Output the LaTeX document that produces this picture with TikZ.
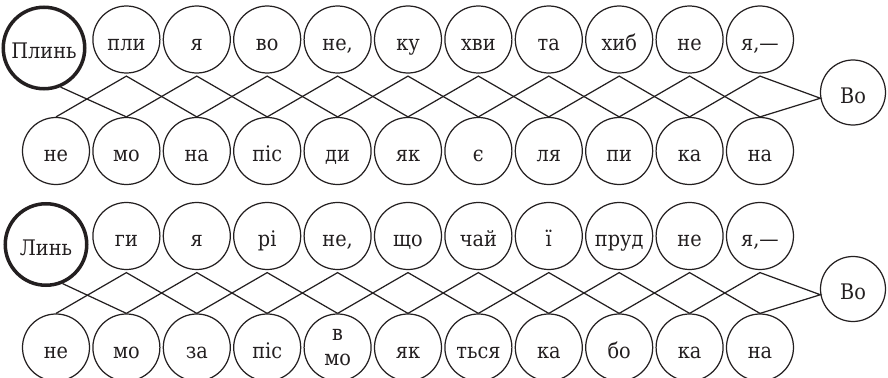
\documentclass[tikz,border=0pt]{standalone}
\usepackage{fontspec}
\setmainfont{DejaVu Serif Condensed}
\usetikzlibrary{calc}
\definecolor{ink}{HTML}{231F20}
\newcommand{\sy}{\fontsize{6.1}{7.2}\selectfont}

\begin{document}
\begin{tikzpicture}[
  syl/.style={circle, draw=ink, line width=0.35pt, minimum size=6.7mm, inner sep=0pt,
              font=\sy, text=ink, text height=1.45ex, text depth=0.25ex},
  head/.style={syl, line width=1pt, minimum size=8.15mm},
  two/.style={syl, text height=, text depth=, align=center},
  wire/.style={ink, line width=0.35pt}]

\useasboundingbox (0,0) rectangle (8.88,-3.78);
\def\p{0.704}     % pitch of the circles
\def\xo{0.56}     % first lower circle

% ================================================================== upper chain: Плинь
\begin{scope}
  \foreach \i/\w in {1/не,2/мо,3/на,4/піс,5/ди,6/як,7/є,8/ля,9/пи,10/ка,11/на}{
    \node[syl] (ub\i) at ({\xo+(\i-1)*\p},-1.51) {\w};
  }
  \foreach \i/\w in {2/пли,3/я,4/во,{5/не,},6/ку,7/хви,8/та,9/хиб,10/не,{11/я,—}}{
    \node[syl] (ut\i) at ({\xo+(\i-1)*\p},-0.395) {\w};
    \coordinate (uv\i) at ($(ut\i.south)+(0,-0.025)$);
  }
  \node[head] (uh) at (0.44,-0.48) {Плинь};
  \node[syl, minimum size=6.5mm] (uvo) at (8.53,-0.925) {Во};
  % zigzag: each upper syllable to its two lower neighbours
  \foreach \i in {2,...,10}{
    \pgfmathtruncatemacro{\a}{\i-1}
    \pgfmathtruncatemacro{\c}{\i+1}
    \draw[wire] (ub\a.north) -- (uv\i) -- (ub\c.north);
  }
  \draw[wire] (ub10.north) -- (uv11) -- (uvo.190) -- (ub11.north);
  \draw[wire] (uh.-67) -- (ub2.north);
\end{scope}

% ================================================================== lower chain: Линь
\begin{scope}[yshift=-1.965cm]
  \foreach \i/\w in {1/не,2/мо,3/за,4/піс,6/як,7/ться,8/ка,9/бо,10/ка,11/на}{
    \node[syl] (lb\i) at ({\xo+(\i-1)*\p},-1.51) {\w};
  }
  \node[two] (lb5) at ({\xo+4*\p},-1.51) {в\\мо};
  \foreach \i/\w in {2/ги,3/я,4/рі,{5/не,},6/що,7/чай,8/ї,9/пруд,10/не,{11/я,—}}{
    \node[syl] (lt\i) at ({\xo+(\i-1)*\p},-0.395) {\w};
    \coordinate (lv\i) at ($(lt\i.south)+(0,-0.025)$);
  }
  \node[head] (lh) at (0.46,-0.48) {Линь};
  \node[syl, minimum size=6.5mm] (lvo) at (8.53,-0.925) {Во};
  \foreach \i in {2,...,10}{
    \pgfmathtruncatemacro{\a}{\i-1}
    \pgfmathtruncatemacro{\c}{\i+1}
    \draw[wire] (lb\a.north) -- (lv\i) -- (lb\c.north);
  }
  \draw[wire] (lb10.north) -- (lv11) -- (lvo.190) -- (lb11.north);
  \draw[wire] (lh.-67) -- (lb2.north);
\end{scope}
\end{tikzpicture}
\end{document}
